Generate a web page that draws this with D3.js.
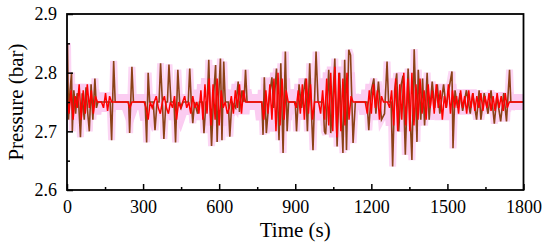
<!DOCTYPE html>
<html>
<head>
<meta charset="utf-8">
<script src="https://cdn.jsdelivr.net/npm/d3@7"></script>
<style>
  body { margin: 0; background: #fff; }
  text { font-family: "Liberation Serif", "Times New Roman", serif; }
</style>
</head>
<body>
<div id="chart"></div>
<script>
const margin = {top: 14, right: 26.5, bottom: 53, left: 67},
    width = 550 - margin.left - margin.right,
    height = 243 - margin.top - margin.bottom,
    majorTick = 6,
    minorTick = 3,
    serif = "'Liberation Serif', 'Times New Roman', serif";

// ticks
const xTicks = [0, 300, 600, 900, 1200, 1500, 1800],
    xMinor = [150, 450, 750, 1050, 1350, 1650],
    yTicks = [2.6, 2.7, 2.8, 2.9],
    yMinor = [2.65, 2.75, 2.85];

// red trace, one value every redStep seconds starting at 0
const redStep = 8;
const redValues = [
    2.76, 2.73, 2.77, 2.72, 2.76, 2.74, 2.78, 2.72, 2.77, 2.73,
    2.78, 2.74, 2.77, 2.73, 2.76, 2.75, 2.75, 2.75, 2.74, 2.765,
    2.735, 2.76, 2.75, 2.75, 2.75, 2.75, 2.75, 2.75, 2.75, 2.75,
    2.75, 2.74, 2.75, 2.75, 2.75, 2.75, 2.75, 2.75, 2.75, 2.74,
    2.72, 2.75, 2.74, 2.75, 2.76, 2.74, 2.73, 2.75, 2.76, 2.74,
    2.73, 2.75, 2.74, 2.76, 2.72, 2.75, 2.74, 2.75, 2.76, 2.74,
    2.75, 2.73, 2.76, 2.74, 2.75, 2.73, 2.77, 2.72, 2.78, 2.73,
    2.79, 2.71, 2.78, 2.72, 2.79, 2.71, 2.77, 2.74, 2.75, 2.73,
    2.74, 2.76, 2.73, 2.77, 2.74, 2.78, 2.73, 2.77, 2.75, 2.75,
    2.75, 2.75, 2.75, 2.75, 2.75, 2.75, 2.75, 2.72, 2.77, 2.73,
    2.78, 2.72, 2.79, 2.70, 2.80, 2.71, 2.79, 2.72, 2.77, 2.75,
    2.75, 2.75, 2.75, 2.74, 2.77, 2.73, 2.78, 2.72, 2.79, 2.73,
    2.78, 2.72, 2.75, 2.75, 2.75, 2.73, 2.77, 2.72, 2.79, 2.71,
    2.80, 2.70, 2.81, 2.69, 2.80, 2.70, 2.79, 2.71, 2.80, 2.72,
    2.76, 2.75, 2.75, 2.75, 2.75, 2.75, 2.75, 2.75, 2.73, 2.77,
    2.73, 2.78, 2.74, 2.77, 2.72, 2.76, 2.75, 2.75, 2.75, 2.74,
    2.77, 2.71, 2.79, 2.70, 2.78, 2.72, 2.80, 2.71, 2.79, 2.70,
    2.80, 2.71, 2.78, 2.72, 2.79, 2.73, 2.77, 2.72, 2.78, 2.74,
    2.77, 2.73, 2.78, 2.74, 2.77, 2.72, 2.76, 2.74, 2.78, 2.73,
    2.77, 2.74, 2.76, 2.73, 2.77, 2.74, 2.76, 2.73, 2.77, 2.74,
    2.765, 2.735, 2.76, 2.74, 2.765, 2.735, 2.76, 2.74, 2.765, 2.735,
    2.76, 2.735, 2.765, 2.74, 2.76, 2.735, 2.765, 2.74, 2.75, 2.75,
    2.75, 2.75, 2.75, 2.75, 2.75, 2.75
];

// brown trace (spikes), time in s and pressure in bar
const brownTimes = [
    0, 2, 6, 12, 18, 21, 27, 34, 40, 47, 53, 60, 68, 75, 82, 88, 95, 102, 110, 116, 122,
    170, 176, 184, 190, 243, 247, 256, 262, 308, 314, 320, 326, 340, 347, 355, 363, 369,
    376, 382, 390, 396, 402, 410, 422, 428, 437, 444, 450, 458, 478, 484, 490, 496, 503,
    515, 522, 534, 540, 548, 553, 559, 564, 570, 578, 586, 592, 598, 605, 611, 618, 624,
    636, 642, 650, 665, 675, 680, 690, 698, 704, 710, 768, 773, 778, 786, 798, 808, 815,
    826, 836, 843, 852, 861, 868, 874, 900, 905, 915, 925, 940, 948, 957, 964, 970, 982,
    990, 1010, 1015, 1020, 1032, 1040, 1050, 1056, 1065, 1075, 1088, 1095, 1102, 1111,
    1118, 1128, 1137, 1183, 1190, 1200, 1210, 1218, 1228, 1240, 1252, 1262, 1268, 1278,
    1284, 1292, 1300, 1308, 1318, 1325, 1334, 1345, 1360, 1369, 1380, 1385, 1395, 1402,
    1410, 1420, 1428, 1440, 1450, 1460, 1470, 1485, 1495, 1505, 1518, 1522, 1530, 1540,
    1550, 1560, 1575, 1590, 1600, 1615, 1625, 1632, 1645, 1660, 1672, 1685, 1695, 1710,
    1722, 1733, 1745, 1750, 1800
];
const brownValues = [
    2.75, 2.85, 2.72, 2.77, 2.80, 2.70, 2.77, 2.73, 2.765, 2.74, 2.69, 2.765, 2.72, 2.775, 2.73, 2.70, 2.78, 2.72, 2.79, 2.74, 2.75,
    2.75, 2.685, 2.82, 2.75, 2.75, 2.697, 2.81, 2.75, 2.75, 2.681, 2.80, 2.75, 2.75, 2.702, 2.75, 2.75, 2.816,
    2.75, 2.687, 2.75, 2.75, 2.814, 2.75, 2.75, 2.681, 2.805, 2.75, 2.74, 2.75, 2.75, 2.807, 2.75, 2.714, 2.75,
    2.73, 2.75, 2.75, 2.697, 2.75, 2.75, 2.822, 2.74, 2.675, 2.76, 2.813, 2.682, 2.76, 2.824, 2.685, 2.819, 2.75,
    2.75, 2.691, 2.75, 2.74, 2.785, 2.733, 2.77, 2.75, 2.805, 2.75, 2.75, 2.694, 2.792, 2.697, 2.76, 2.792, 2.74,
    2.807, 2.685, 2.816, 2.663, 2.836, 2.70, 2.75, 2.75, 2.70, 2.78, 2.74, 2.79, 2.70, 2.816, 2.73, 2.668, 2.836,
    2.75, 2.75, 2.70, 2.695, 2.805, 2.697, 2.77, 2.824, 2.674, 2.80, 2.663, 2.822, 2.668, 2.839,
    2.83, 2.68, 2.75, 2.75, 2.702, 2.77, 2.79, 2.73, 2.785, 2.72, 2.73, 2.819, 2.75, 2.75,
    2.64, 2.77, 2.799, 2.70, 2.78, 2.795, 2.66, 2.807, 2.651, 2.84, 2.682, 2.805, 2.72, 2.79,
    2.71, 2.80, 2.72, 2.785, 2.74, 2.78, 2.73, 2.78, 2.74, 2.77, 2.802, 2.671, 2.77, 2.74,
    2.765, 2.735, 2.77, 2.73, 2.765, 2.72, 2.77, 2.72, 2.765, 2.73, 2.77, 2.713, 2.76, 2.717,
    2.765, 2.717, 2.805, 2.75, 2.75
];

const redData = redValues.map((v, i) => ({t: i * redStep, v: v}));
const brownData = brownTimes.map((t, i) => ({t: t, v: brownValues[i]}));

const svg = d3.select("#chart").append("svg")
    .attr("width", width + margin.left + margin.right)
    .attr("height", height + margin.top + margin.bottom)
    .append("g")
    .attr("transform", "translate(" + margin.left + "," + margin.top + ")");

const x = d3.scaleLinear().domain([0, 1800]).range([0, width]);
const y = d3.scaleLinear().domain([2.6, 2.9]).range([height, 0]);

svg.append("defs").append("clipPath").attr("id", "clip")
    .append("rect").attr("width", width).attr("height", height);

const line = d3.line()
    .x(d => x(d.t))
    .y(d => y(d.v));

const plot = svg.append("g").attr("clip-path", "url(#clip)");

// pink halo behind the traces
plot.append("path")
    .datum(brownData)
    .attr("d", line)
    .style("fill", "none")
    .style("stroke", "#fcd6f4")
    .style("stroke-width", 7);

plot.append("path")
    .datum(redData)
    .attr("d", line)
    .style("fill", "none")
    .style("stroke", "#fbccf1")
    .style("stroke-width", 16);

plot.append("path")
    .datum(brownData)
    .attr("d", line)
    .style("fill", "none")
    .style("stroke", "#8b4216")
    .style("stroke-width", 1.6);

// red on top, only the brown spikes stick out of it
plot.append("path")
    .datum(redData)
    .attr("d", line)
    .style("fill", "none")
    .style("stroke", "#ff0000")
    .style("stroke-width", 1.5);

// Axes: ticks pointing inward, frame around the plot
svg.append("g")
    .attr("transform", "translate(0," + height + ")")
    .call(d3.axisBottom(x).tickValues(xMinor).tickSize(-minorTick).tickFormat(""))
    .call(g => g.select(".domain").remove());

const xAxis = svg.append("g")
    .attr("transform", "translate(0," + height + ")")
    .call(d3.axisBottom(x).tickValues(xTicks).tickSize(-majorTick).tickFormat(d3.format("d")));
xAxis.attr("font-family", serif).attr("font-size", 18);
xAxis.select(".domain").remove();
xAxis.selectAll("text")
    .attr("y", 10)
    .attr("dy", "0.71em")
    .style("font-family", serif)
    .style("font-size", "18px")
    .style("fill", "#000");

svg.append("g")
    .call(d3.axisLeft(y).tickValues(yMinor).tickSize(-minorTick).tickFormat(""))
    .call(g => g.select(".domain").remove());

const yAxis = svg.append("g")
    .call(d3.axisLeft(y).tickValues(yTicks).tickSize(-majorTick).tickFormat(d3.format(".1f")));
yAxis.attr("font-family", serif).attr("font-size", 18);
yAxis.select(".domain").remove();
yAxis.selectAll("text")
    .attr("x", -10)
    .style("font-family", serif)
    .style("font-size", "18px")
    .style("fill", "#000");

svg.selectAll(".tick line")
    .style("stroke", "#000")
    .style("stroke-width", 1.5);

svg.append("rect")
    .attr("width", width)
    .attr("height", height)
    .style("fill", "none")
    .style("stroke", "#000")
    .style("stroke-width", 1.8);

svg.append("text")
    .attr("x", width / 2)
    .attr("y", height + 47)
    .attr("text-anchor", "middle")
    .style("font-family", serif)
    .style("font-size", "21px")
    .text("Time (s)");

svg.append("text")
    .attr("transform", "translate(" + (-44) + "," + (height / 2) + ") rotate(-90)")
    .attr("text-anchor", "middle")
    .style("font-family", serif)
    .style("font-size", "21px")
    .text("Pressure (bar)");
</script>
</body>
</html>
